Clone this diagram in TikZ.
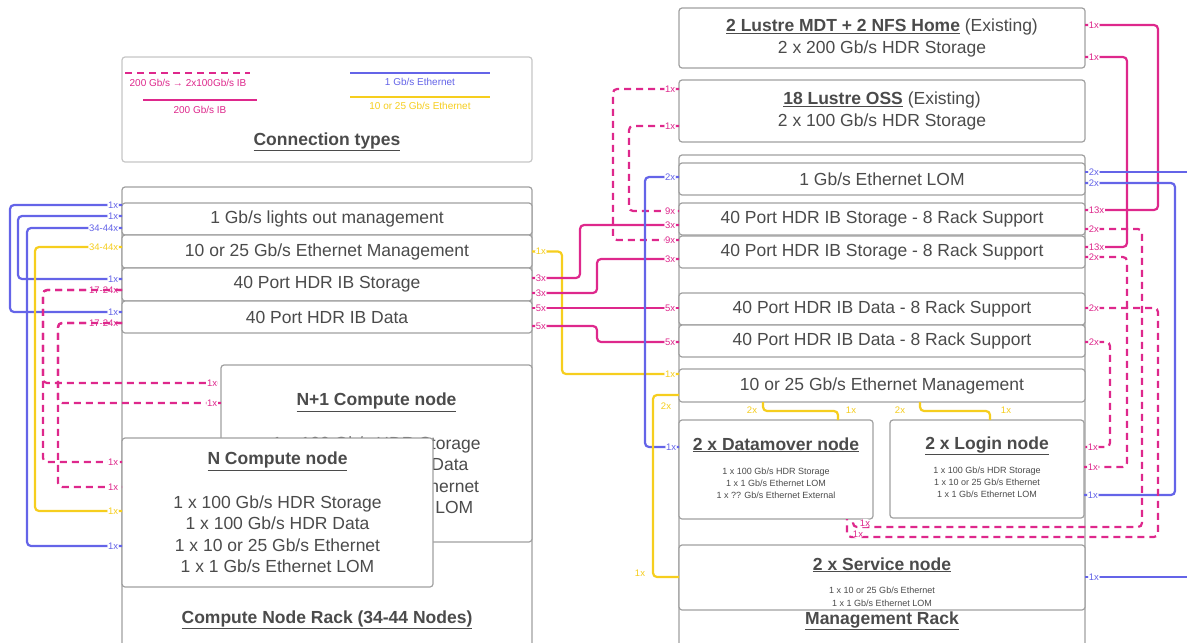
\documentclass[tikz,border=0pt]{standalone}
\usepackage{fontspec}
\setmainfont{Liberation Sans}
\usetikzlibrary{positioning}

\definecolor{ibpink}{RGB}{222,40,140}
\definecolor{lomblue}{RGB}{100,100,232}
\definecolor{ethyel}{RGB}{246,206,30}
\definecolor{boxgray}{RGB}{160,160,160}
\definecolor{txtgray}{RGB}{75,75,75}

\newcommand{\boxtitle}[1]{\underline{\textbf{#1}}}
\newcommand{\nodelist}[2][12]{\fontsize{9}{#1}\selectfont\begin{tabular}[t]{@{}c@{}}#2\end{tabular}}

\begin{document}
\begin{tikzpicture}[x=1pt, y=-1pt,
  box/.style={draw=boxgray, line width=1.2pt, rounded corners=3pt, fill=white,
              inner sep=0pt, outer sep=0pt, anchor=north west, align=center,
              text=txtgray, font=\fontsize{17.5}{21.5}\selectfont},
  rackname/.style={text=txtgray, font=\fontsize{17.5}{21.5}\selectfont\bfseries},
  keytext/.style={font=\fontsize{10}{12}\selectfont},
  lbl/.style={fill=white, inner sep=0.8pt, font=\fontsize{9.5}{10}\selectfont},
  wire/.style={line width=2.2pt, rounded corners=4pt},
  ib/.style={wire, color=ibpink},
  ibsplit/.style={ib, dash pattern=on 7pt off 5pt},
  lom/.style={wire, color=lomblue},
  eth/.style={wire, color=ethyel}]
\useasboundingbox (0,0) rectangle (1187,643);

% connection types
\node[box, draw=boxgray!60, minimum width=410pt, minimum height=105pt] (legend) at (122,57) {};
\coordinate (kSplitA) at (125,73);
\coordinate (kSplitB) at (250,73);
\coordinate (kIbA) at (143,100);
\coordinate (kIbB) at (257,100);
\coordinate (kLomA) at (350,73);
\coordinate (kLomB) at (490,73);
\coordinate (kEthA) at (350,97);
\coordinate (kEthB) at (490,97);
\draw[ibsplit] (kSplitA) -- (kSplitB);
\draw[ib] (kIbA) -- (kIbB);
\draw[lom] (kLomA) -- (kLomB);
\draw[eth] (kEthA) -- (kEthB);
\node[keytext, text=ibpink] (kSplitT) at (188,83) {200 Gb/s → 2x100Gb/s IB};
\node[keytext, text=ibpink] (kIbT) at (200,110) {200 Gb/s IB};
\node[keytext, text=lomblue] (kLomT) at (420,82) {1 Gb/s Ethernet};
\node[keytext, text=ethyel] (kEthT) at (420,106) {10 or 25 Gb/s Ethernet};
\node[rackname] (legendT) at (327,142) {\underline{Connection types}};

% compute node rack
\node[box, minimum width=410pt, minimum height=473pt] (rackL) at (122,187) {};
\node[box, minimum width=410pt, minimum height=32pt] (lomL) at (122,203) {1 Gb/s lights out management};
\node[box, minimum width=410pt, minimum height=33pt] (ethL) at (122,235) {10 or 25 Gb/s Ethernet Management};
\node[box, minimum width=410pt, minimum height=33pt] (stoL) at (122,268) {40 Port HDR IB Storage};
\node[box, minimum width=410pt, minimum height=32pt] (datL) at (122,301) {40 Port HDR IB Data};
\node[box, minimum width=311pt, minimum height=177pt] (cnode1) at (221,365)
  {\boxtitle{N+1 Compute node}\\[22pt]1 x 100 Gb/s HDR Storage\\1 x 100 Gb/s HDR Data\\1 x 10 or 25 Gb/s Ethernet\\1 x 1 Gb/s Ethernet LOM};
\node[box, minimum width=311pt, minimum height=149pt] (cnode) at (122,438)
  {\boxtitle{N Compute node}\\[22pt]1 x 100 Gb/s HDR Storage\\1 x 100 Gb/s HDR Data\\1 x 10 or 25 Gb/s Ethernet\\1 x 1 Gb/s Ethernet LOM};
\node[rackname] (rackLT) at (327,620) {\underline{Compute Node Rack (34-44 Nodes)}};

% management rack
\node[box, minimum width=406pt, minimum height=60pt] (mdt) at (679,8)
  {\boxtitle{2 Lustre MDT + 2 NFS Home} (Existing)\\2 x 200 Gb/s HDR Storage};
\node[box, minimum width=406pt, minimum height=62pt] (oss) at (679,80)
  {\boxtitle{18 Lustre OSS} (Existing)\\2 x 100 Gb/s HDR Storage};
\node[box, minimum width=406pt, minimum height=500pt] (rackR) at (679,155) {};
\node[box, minimum width=406pt, minimum height=32pt] (lomR) at (679,163) {1 Gb/s Ethernet LOM};
\node[box, minimum width=406pt, minimum height=32pt] (sto1R) at (679,203) {40 Port HDR IB Storage - 8 Rack Support};
\node[box, minimum width=406pt, minimum height=32pt] (sto2R) at (679,236) {40 Port HDR IB Storage - 8 Rack Support};
\node[box, minimum width=406pt, minimum height=32pt] (dat1R) at (679,293) {40 Port HDR IB Data - 8 Rack Support};
\node[box, minimum width=406pt, minimum height=32pt] (dat2R) at (679,325) {40 Port HDR IB Data - 8 Rack Support};
\node[box, minimum width=406pt, minimum height=33pt] (ethR) at (679,369) {10 or 25 Gb/s Ethernet Management};
\node[box, minimum width=194pt, minimum height=99pt] (dm) at (679,420)
  {\boxtitle{2 x Datamover node}\\[2.5pt]\nodelist{1 x 100 Gb/s HDR Storage\\1 x 1 Gb/s Ethernet LOM\\1 x ?? Gb/s Ethernet External}};
\node[box, minimum width=194pt, minimum height=98pt] (login) at (890,420)
  {\boxtitle{2 x Login node}\\[2.5pt]\nodelist{1 x 100 Gb/s HDR Storage\\1 x 10 or 25 Gb/s Ethernet\\1 x 1 Gb/s Ethernet LOM}};
\node[box, minimum width=406pt, minimum height=65pt] (svc) at (679,545)
  {\rule{0pt}{25pt}\boxtitle{2 x Service node}\\[1.5pt]\nodelist[13]{1 x 10 or 25 Gb/s Ethernet\\1 x 1 Gb/s Ethernet LOM}};
\node[rackname] (rackRT) at (882,621) {\underline{Management Rack}};

% compute rack cabling
\draw[lom] ([yshift=14pt]lomL.west) node[lbl, left=2pt] (t1a) {1x}
  -- ++(-112,0) |- ([yshift=5pt]datL.west) node[lbl, left=2pt] (t1b) {1x};
\draw[lom] ([yshift=3pt]lomL.west) node[lbl, left=2pt] (t2a) {1x}
  -- ++(-104,0) |- ([yshift=5.5pt]stoL.west) node[lbl, left=2pt] (t2b) {1x};
\draw[lom] ([yshift=-9pt]lomL.west) node[lbl, left=2pt] (t3a) {34-44x}
  -- ++(-95,0) |- ([yshift=-33.5pt]cnode.west) node[lbl, left=2pt] (t3b) {1x};
\draw[eth] ([yshift=4.5pt]ethL.west) node[lbl, left=2pt] (t4a) {34-44x}
  -- ++(-87,0) |- ([yshift=1.5pt]cnode.west) node[lbl, left=2pt] (t4b) {1x};
\draw[ibsplit] ([yshift=-5.5pt]stoL.west) node[lbl, left=2pt] (t5a) {17-24x}
  -- ++(-79,0) |- ([yshift=70.5pt]cnode1.west) node[lbl, left=2pt] (t5b) {1x};
\draw[ibsplit] ([yshift=-5.5pt]stoL.west)
  -- ++(-79,0) |- ([yshift=50.5pt]cnode.west) node[lbl, left=2pt] (t5c) {1x};
\draw[ibsplit] ([yshift=-6pt]datL.west) node[lbl, left=2pt] (t6a) {17-24x}
  -- ++(-64,0) |- ([yshift=50.5pt]cnode1.west) node[lbl, left=2pt] (t6b) {1x};
\draw[ibsplit] ([yshift=-6pt]datL.west)
  -- ++(-64,0) |- ([yshift=25.5pt]cnode.west) node[lbl, left=2pt] (t6c) {1x};

% rack to rack
\draw[eth] (ethL.east) node[lbl, right=2pt] (t7a) {1x}
  -- ++(30,0) |- ([yshift=11.5pt]ethR.west) node[lbl, left=2pt] (t7b) {1x};
\draw[ib] ([yshift=6.5pt]stoL.east) node[lbl, right=2pt] (t8a) {3x}
  -- ++(48,0) |- ([yshift=-6pt]sto1R.west) node[lbl, left=2pt] (t8b) {3x};
\draw[ib] ([yshift=-8.5pt]stoL.east) node[lbl, right=2pt] (t9a) {3x}
  -- ++(65,0) |- ([yshift=-7pt]sto2R.west) node[lbl, left=2pt] (t9b) {3x};
\draw[ib] ([yshift=9pt]datL.east) node[lbl, right=2pt] (t10a) {5x}
  -- ([yshift=1pt]dat1R.west) node[lbl, left=2pt] (t10b) {5x};
\draw[ib] ([yshift=-9pt]datL.east) node[lbl, right=2pt] (t11a) {5x}
  -- ++(65,0) |- ([yshift=-1pt]dat2R.west) node[lbl, left=2pt] (t11b) {5x};

% management rack, left side
\draw[ibsplit] ([yshift=22pt]oss.west) node[lbl, left=2pt] (t12a) {1x}
  -- ++(-66,0) |- ([yshift=12pt]sto2R.west) node[lbl, left=2pt] (t12b) {9x};
\draw[ibsplit] ([yshift=-15pt]oss.west) node[lbl, left=2pt] (t13a) {1x}
  -- ++(-50,0) |- ([yshift=8pt]sto1R.west) node[lbl, left=2pt] (t13b) {9x};
\draw[lom] ([yshift=2pt]lomR.west) node[lbl, left=2pt] (t14a) {2x}
  -- ++(-34,0) |- ([yshift=22.5pt]dm.west) node[lbl, left=1pt] (t14b) {1x};
\draw[eth] ([yshift=-9.5pt]ethR.west) node[lbl, xshift=-13pt, yshift=-11pt] (t15a) {2x}
  -- ++(-26,0) |- ([yshift=0.5pt]svc.west) node[lbl, xshift=-39pt, yshift=4pt] (t15b) {1x};
\draw[eth] ([xshift=-119pt]ethR.south) node[lbl, xshift=-11pt, yshift=-8pt] (t16a) {2x}
  -- ++(0,9) -| ([xshift=62pt]dm.north) node[lbl, xshift=13pt, yshift=10pt] (t16b) {1x};
\draw[eth] ([xshift=38pt]ethR.south) node[lbl, xshift=-20pt, yshift=-8pt] (t17a) {2x}
  -- ++(0,9) -| ([xshift=3pt]login.north) node[lbl, xshift=16pt, yshift=10pt] (t17b) {1x};

% management rack, right side
\coordinate (edgeLom) at (1190,172);
\coordinate (edgeSvc) at (1190,577);
\draw[ib] ([yshift=13pt]mdt.east) node[lbl, right=2pt] (t18a) {1x}
  -- ++(73,0) |- ([yshift=9pt]sto1R.east) node[lbl, right=2pt] (t18b) {13x};
\draw[ib] ([yshift=-19pt]mdt.east) node[lbl, right=2pt] (t19a) {1x}
  -- ++(42,0) |- ([yshift=5pt]sto2R.east) node[lbl, right=2pt] (t19b) {13x};
\draw[lom] ([yshift=7pt]lomR.east) node[lbl, right=2pt] (t20a) {2x} -- (edgeLom);
\draw[lom] ([yshift=-4pt]lomR.east) node[lbl, right=2pt] (t21a) {2x}
  -- ++(90,0) |- ([yshift=-26pt]login.east) node[lbl, right=2pt] (t21b) {1x};
\draw[ibsplit] ([yshift=-10pt]sto1R.east) node[lbl, right=2pt] (t22a) {2x}
  -- ++(57,0) -- ++(0,298) -| ([xshift=77pt]dm.south) node[lbl, xshift=12pt, yshift=-4pt] (t22b) {1x};
\draw[ibsplit] ([yshift=-5pt]sto2R.east) node[lbl, right=2pt] (t23a) {2x}
  -- ++(42,0) |- ([yshift=2pt]login.east) node[lbl, right=2pt] (t23b) {1x};
\draw[ibsplit] ([yshift=1pt]dat1R.east) node[lbl, right=2pt] (t24a) {2x}
  -- ++(73,0) -- ++(0,229) -| ([xshift=71pt]dm.south) node[lbl, xshift=11pt, yshift=-15pt] (t24b) {1x};
\draw[ibsplit] ([yshift=-1pt]dat2R.east) node[lbl, right=2pt] (t25a) {2x}
  -- ++(25,0) |- ([yshift=22pt]login.east) node[lbl, right=2pt] (t25b) {1x};
\draw[lom] ([yshift=0.5pt]svc.east) node[lbl, right=2pt] (t26a) {1x} -- (edgeSvc);
\end{tikzpicture}
\end{document}
